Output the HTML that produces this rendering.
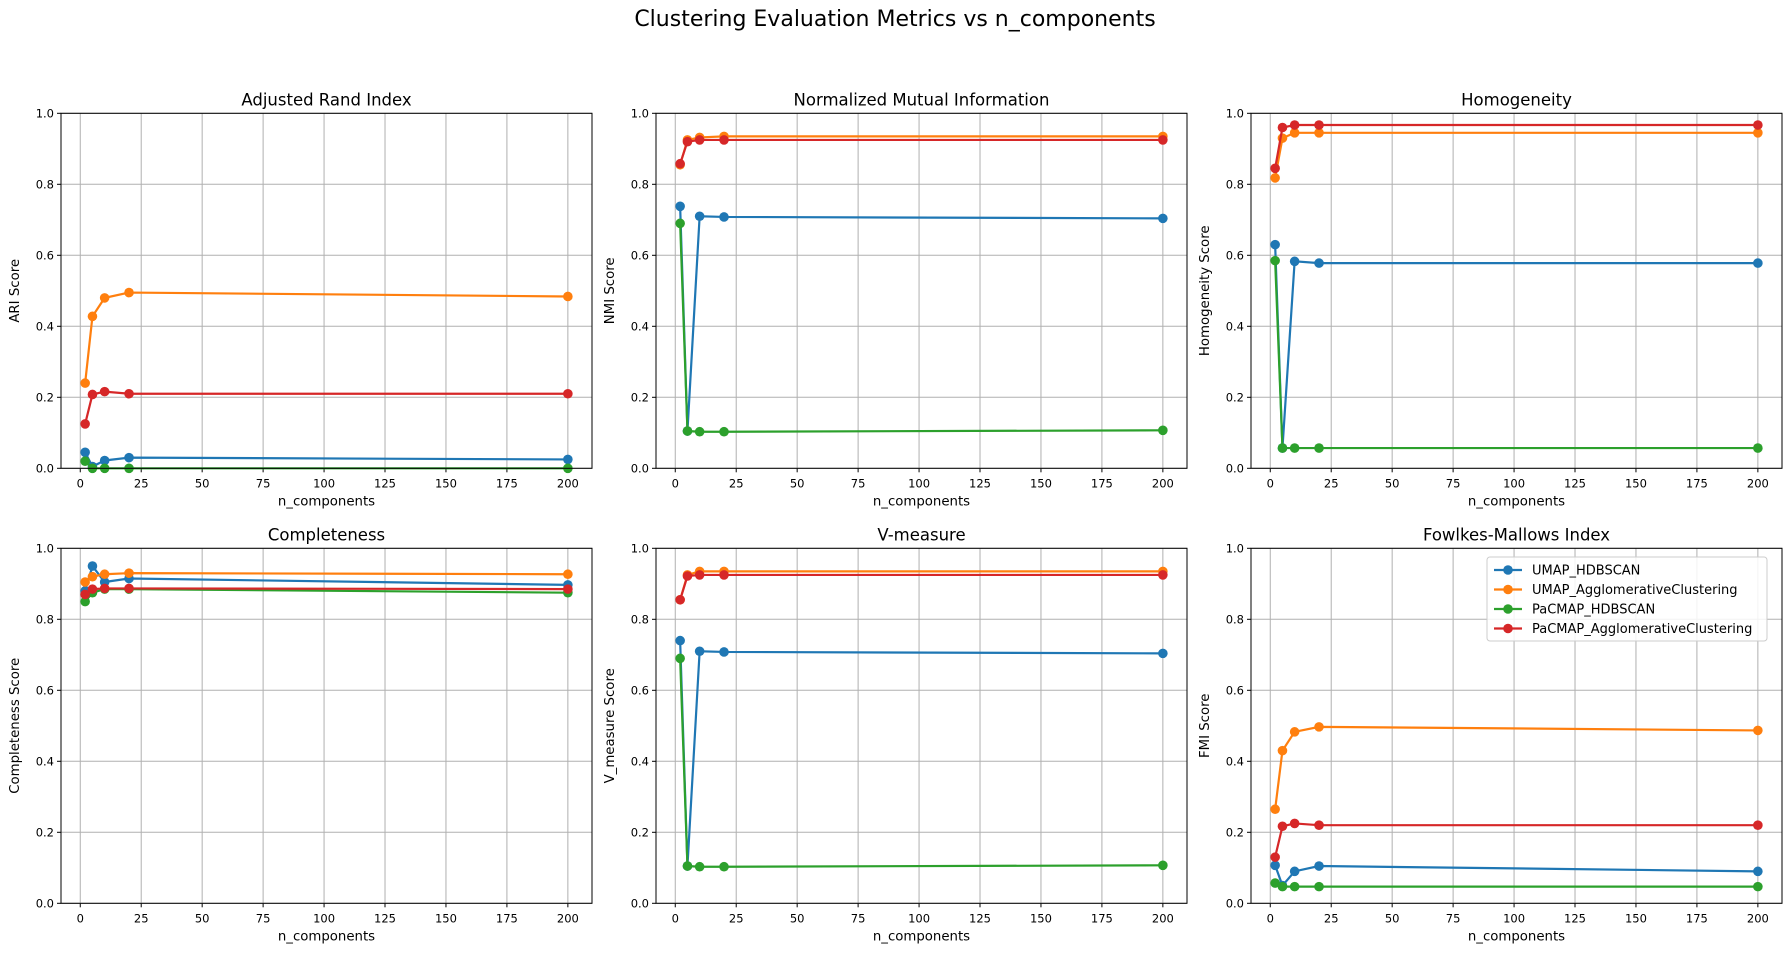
<!DOCTYPE html>
<html><head><meta charset="utf-8"><style>
body{margin:0;background:#fff;}
svg{display:block;font-family:"DejaVu Sans","Liberation Sans",sans-serif;}
</style></head><body>
<svg id="chart" width="1790" height="955" viewBox="0 0 1790 955" xmlns="http://www.w3.org/2000/svg">
<text x="895" y="26" font-size="22" text-anchor="middle">Clustering Evaluation Metrics vs n_components</text>
</svg>
<script>
const nComponents = [2, 5, 10, 20, 200];
const seriesNames = ["UMAP_HDBSCAN", "UMAP_AgglomerativeClustering", "PaCMAP_HDBSCAN", "PaCMAP_AgglomerativeClustering"];
const seriesColors = ["#1f77b4", "#ff7f0e", "#2ca02c", "#d62728"];
const panelTitles = ["Adjusted Rand Index", "Normalized Mutual Information", "Homogeneity", "Completeness", "V-measure", "Fowlkes-Mallows Index"];
const yLabels = ["ARI Score", "NMI Score", "Homogeneity Score", "Completeness Score", "V_measure Score", "FMI Score"];
const xTicks = [0, 25, 50, 75, 100, 125, 150, 175, 200];
const yTicks = [0, 0.2, 0.4, 0.6, 0.8, 1.0];
const ariValues = [[0.045,0.005,0.022,0.03,0.025],[0.24,0.428,0.48,0.495,0.484],[0.02,0.0,0.0,0.0,0.0],[0.125,0.208,0.216,0.21,0.21]];
const nmiValues = [[0.738,0.105,0.71,0.708,0.704],[0.855,0.925,0.932,0.935,0.935],[0.69,0.105,0.103,0.103,0.107],[0.858,0.92,0.925,0.925,0.925]];
const homValues = [[0.63,0.057,0.583,0.578,0.578],[0.818,0.93,0.945,0.945,0.945],[0.585,0.057,0.057,0.057,0.057],[0.845,0.96,0.967,0.967,0.967]];
const compValues = [[0.88,0.95,0.905,0.915,0.897],[0.905,0.92,0.927,0.93,0.927],[0.85,0.875,0.885,0.885,0.875],[0.87,0.885,0.887,0.887,0.885]];
const vmValues = [[0.74,0.105,0.71,0.708,0.704],[0.855,0.925,0.935,0.935,0.935],[0.69,0.105,0.103,0.103,0.107],[0.855,0.922,0.925,0.925,0.925]];
const fmiValues = [[0.107,0.05,0.09,0.105,0.09],[0.265,0.43,0.483,0.497,0.487],[0.057,0.047,0.047,0.047,0.047],[0.13,0.217,0.225,0.22,0.22]];
const panelData = [ariValues, nmiValues, homValues, compValues, vmValues, fmiValues];

const NS = "http://www.w3.org/2000/svg";
const svg = document.getElementById("chart");
function mk(tag, attrs, parent){const e=document.createElementNS(NS,tag);for(const k in attrs)e.setAttribute(k,attrs[k]);(parent||svg).appendChild(e);return e;}
const colLeft=[61,656,1251], rowTop=[113.3,548.3], W=531, H=355;
const xMin=-7.9, xMax=209.9;
for(let p=0;p<6;p++){
  const L=colLeft[p%3], T=rowTop[Math.floor(p/3)];
  const xs=v=>L+(v-xMin)/(xMax-xMin)*W;
  const ys=v=>T+H-v*H;
  const g=mk("g",{});
  
  
  xTicks.forEach(t=>{
    const x=xs(t);
    const gl=mk("line",{x1:x,x2:x,y1:T,y2:T+H,stroke:"#b0b0b0","stroke-width":1},g);
    
    
    mk("line",{x1:x,x2:x,y1:T+H,y2:T+H+4,stroke:"#000","stroke-width":1},g);
    const tx=mk("text",{x:x,y:T+H+19,"font-size":11.5,"text-anchor":"middle"},g);
    tx.textContent=t;
    
    
  });
  yTicks.forEach(t=>{
    const y=ys(t);
    const gl=mk("line",{x1:L,x2:L+W,y1:y,y2:y,stroke:"#b0b0b0","stroke-width":1},g);
    
    
    mk("line",{x1:L-4,x2:L,y1:y,y2:y,stroke:"#000","stroke-width":1},g);
    const tx=mk("text",{x:L-7,y:y+4,"font-size":11.5,"text-anchor":"end"},g);
    tx.textContent=t.toFixed(1);
    
    
  });
  const data=panelData[p];
  data.forEach((vals,s)=>{
    const pts=vals.map((v,i)=>xs(nComponents[i])+","+ys(v)).join(" ");
    const ln=mk("polyline",{points:pts,fill:"none",stroke:seriesColors[s],"stroke-width":2.2},g);
    
    
    vals.forEach((v,i)=>{
      const c=mk("circle",{cx:xs(nComponents[i]),cy:ys(v),r:4.8,fill:seriesColors[s]},g);
      
      
    });
  });
  const fr=mk("rect",{x:L,y:T,width:W,height:H,fill:"none",stroke:"#000","stroke-width":1},g);
  
  
  const tt=mk("text",{x:L+W/2,y:T-8,"font-size":16.5,"text-anchor":"middle"},g);
  tt.textContent=panelTitles[p];
  
  
  const xl=mk("text",{x:L+W/2,y:T+H+37,"font-size":13.3,"text-anchor":"middle"},g);
  xl.textContent="n_components";
  
  
  const yl=mk("text",{x:0,y:0,"font-size":13.3,"text-anchor":"middle",transform:"translate("+(L-42)+","+(T+H/2)+") rotate(-90)"},g);
  yl.textContent=yLabels[p];
  
  
}
// legend
const lg=mk("g",{});


mk("rect",{x:1487,y:557,width:280,height:84,rx:3,fill:"#fff","fill-opacity":0.85,stroke:"#ccc"},lg);
seriesNames.forEach((n,s)=>{
  const y=570+s*19.5;
  const e=mk("g",{},lg);
  
  
  mk("line",{x1:1494,x2:1522,y1:y,y2:y,stroke:seriesColors[s],"stroke-width":2.2},e);
  mk("circle",{cx:1508,cy:y,r:4.8,fill:seriesColors[s]},e);
  const t=mk("text",{x:1532,y:y+4.5,"font-size":13},e);
  t.textContent=n;
});
</script>
</body></html>
